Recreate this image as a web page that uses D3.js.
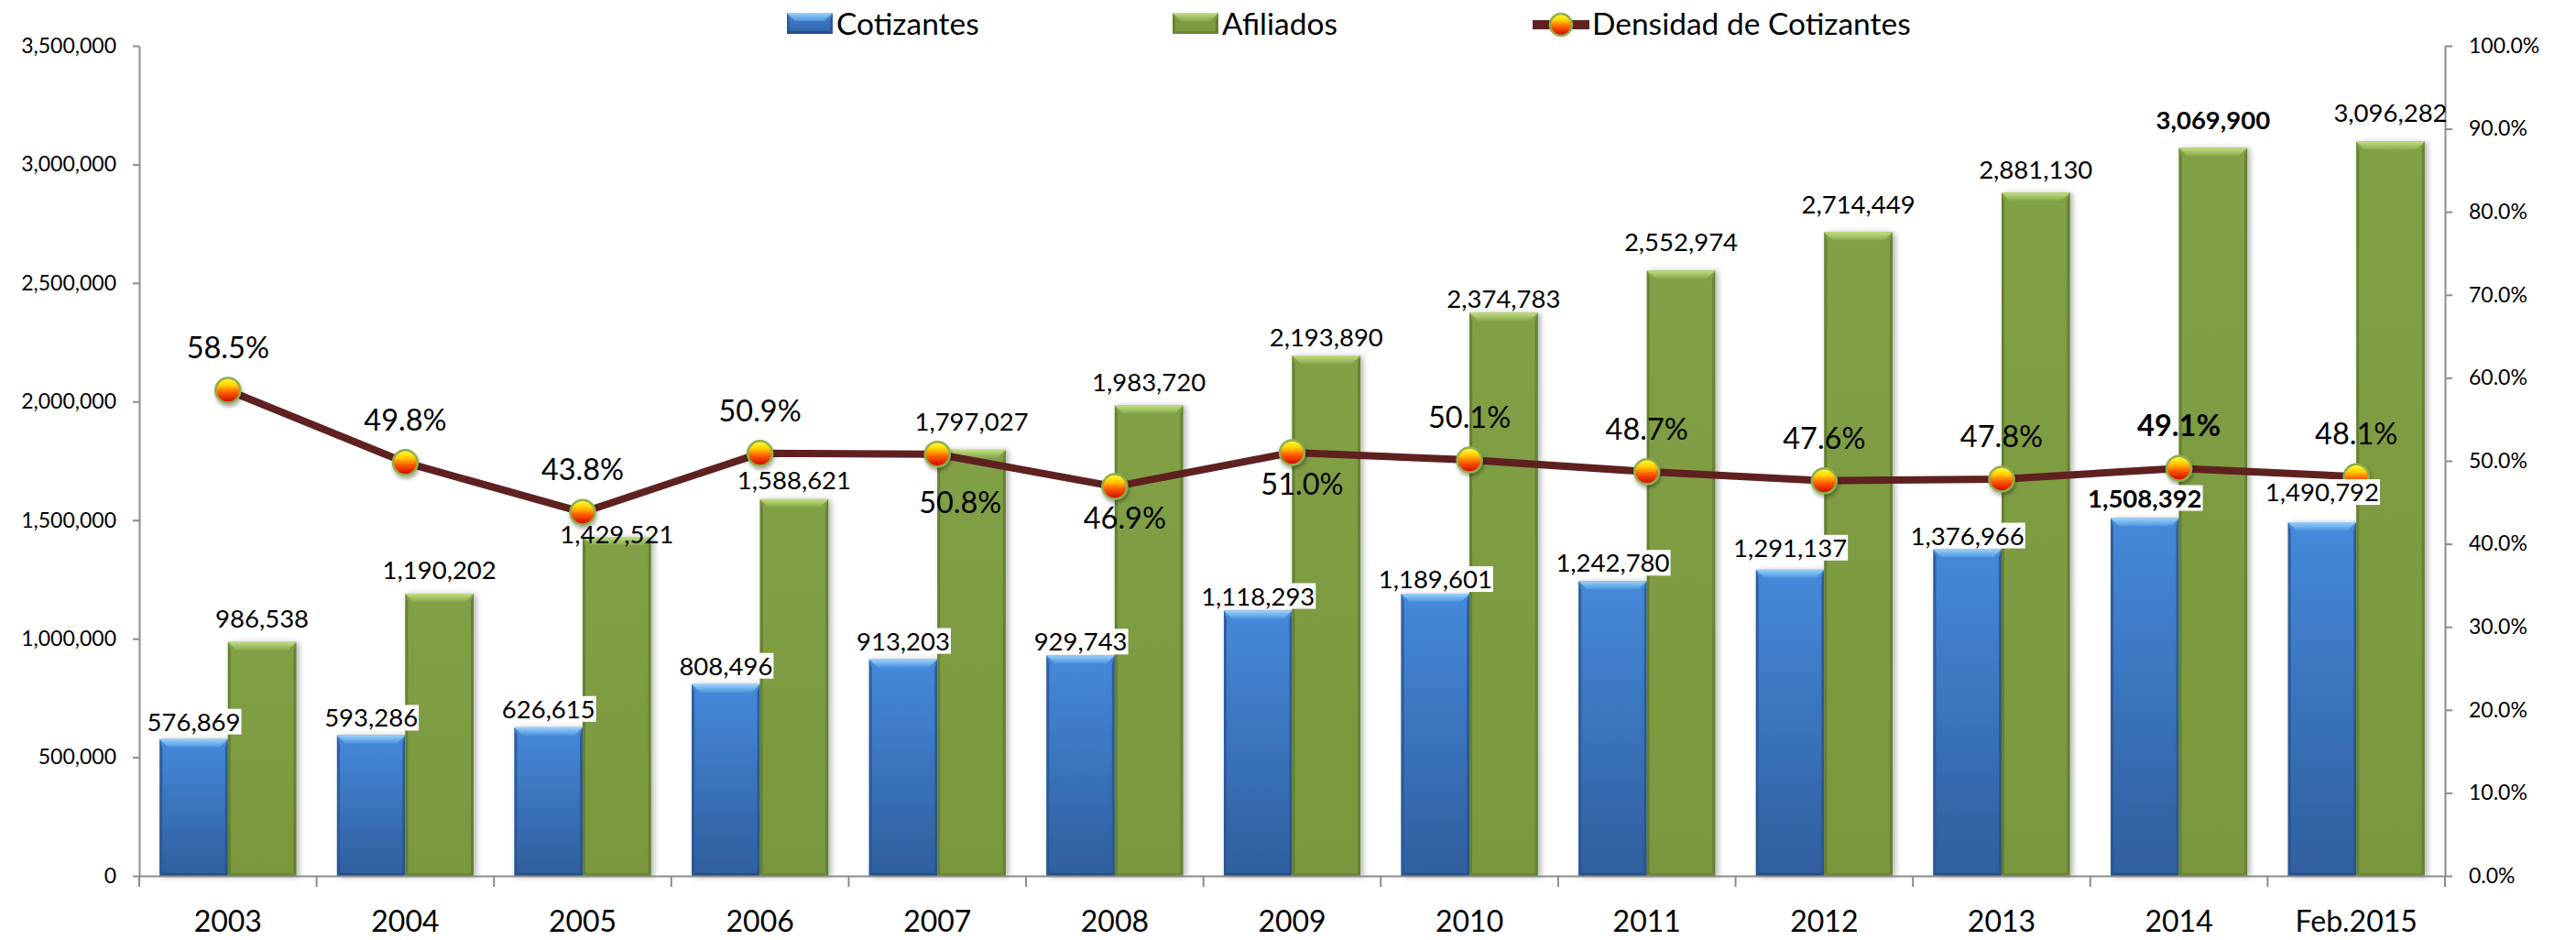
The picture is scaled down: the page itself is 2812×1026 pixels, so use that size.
<!DOCTYPE html>
<html>
<head>
<meta charset="utf-8">
<script src="https://cdn.jsdelivr.net/npm/d3@7"></script>
<style>
  html, body { margin: 0; padding: 0; background: #ffffff; }
  svg { display: block; font-family: Lato, "Open Sans", sans-serif; }
</style>
</head>
<body>
<svg id="chart" width="2812" height="1026"></svg>
<script>
// ---------------- DATA ----------------
const categories = ["2003", "2004", "2005", "2006", "2007", "2008", "2009", "2010", "2011", "2012", "2013", "2014", "Feb.2015"];
const cotizantes = [576869, 593286, 626615, 808496, 913203, 929743, 1118293, 1189601, 1242780, 1291137, 1376966, 1508392, 1490792];
const afiliados = [986538, 1190202, 1429521, 1588621, 1797027, 1983720, 2193890, 2374783, 2552974, 2714449, 2881130, 3069900, 3096282];
const densidad = [0.585, 0.498, 0.438, 0.509, 0.508, 0.469, 0.510, 0.501, 0.487, 0.476, 0.478, 0.491, 0.481];
const leftTicks = [0, 500000, 1000000, 1500000, 2000000, 2500000, 3000000, 3500000];
const rightTicks = [0, 0.1, 0.2, 0.3, 0.4, 0.5, 0.6, 0.7, 0.8, 0.9, 1.0];
const seriesNames = ["Cotizantes", "Afiliados", "Densidad de Cotizantes"];
const boldCategory = "2014";

// ---------------- LAYOUT (not data) ----------------
const pctPlacement = ["above", "above", "above", "above", "below", "below", "below", "above", "above", "above", "above", "above", "above"];
const pctNudge = { 4: { dx: 14, dy: 18 } };
const cotGap = [9, 9, 10, 10, 10, 5, 6, 6, 10, 14, 5, 12, 23];
const afiGap = [16, 16, -7, 11, 21, 15, 10, 5, 21, 20, 15, 20, 22];

const svg = d3.select("#chart");
const plot = { left: 152, right: 2669, top: 50, bottom: 956 };

const x = d3.scaleBand().domain(categories).range([plot.left, plot.right]).padding(0);
const yL = d3.scaleLinear().domain([0, 3500000]).range([plot.bottom, plot.top]);
const yR = d3.scaleLinear().domain([0, 1]).range([plot.bottom, plot.top]);
const bw = x.bandwidth() * 0.385;
const fmt = d3.format(",");
const pfmt = d3.format(".1%");

// ---------------- DEFS ----------------
const defs = svg.append("defs");
function linGrad(id, stops, horizontal) {
  const g = defs.append("linearGradient").attr("id", id)
    .attr("x1", 0).attr("y1", 0).attr("x2", horizontal ? 1 : 0).attr("y2", horizontal ? 0 : 1);
  stops.forEach(s => g.append("stop").attr("offset", s[0]).attr("stop-color", s[1]));
}
linGrad("blueBody", [[0, "#4689da"], [1, "#2f5e9d"]]);
linGrad("blueTop", [[0, "#9ad2fa"], [1, "#4d93de"]]);
linGrad("greenBody", [[0, "#82a046"], [1, "#7a973f"]]);
linGrad("greenTop", [[0, "#c2de80"], [1, "#8aa84c"]]);
linGrad("marker", [[0, "#ffff40"], [0.3, "#ffd000"], [0.6, "#ff5a00"], [1, "#c80000"]]);

const shadow = defs.append("filter").attr("id", "shadow")
  .attr("x", "-20%").attr("y", "-5%").attr("width", "150%").attr("height", "115%");
shadow.append("feDropShadow").attr("dx", 3).attr("dy", 1).attr("stdDeviation", 3)
  .attr("flood-color", "#000").attr("flood-opacity", 0.3);
const mshadow = defs.append("filter").attr("id", "mshadow")
  .attr("x", "-50%").attr("y", "-50%").attr("width", "200%").attr("height", "200%");
mshadow.append("feDropShadow").attr("dx", 1).attr("dy", 3).attr("stdDeviation", 2)
  .attr("flood-color", "#000").attr("flood-opacity", 0.35);

const palette = {
  blue: { body: "url(#blueBody)", top: "url(#blueTop)", side: "#2a5590", bottom: "#274f87" },
  green: { body: "url(#greenBody)", top: "url(#greenTop)", side: "#5f7c2e", bottom: "#6a8736" }
};

function bevelBar(g, x0, y0, w, h, p, withShadow) {
  const b = Math.min(9, h / 2), s = 3;
  const grp = g.append("g");
  if (withShadow) grp.attr("filter", "url(#shadow)");
  grp.append("rect").attr("x", x0).attr("y", y0).attr("width", w).attr("height", h).attr("fill", p.body);
  grp.append("polygon").attr("points", [[x0, y0], [x0 + s, y0 + b], [x0 + s, y0 + h - s], [x0, y0 + h]].join(" ")).attr("fill", p.side).attr("opacity", 0.8);
  grp.append("polygon").attr("points", [[x0 + w, y0], [x0 + w - s, y0 + b], [x0 + w - s, y0 + h - s], [x0 + w, y0 + h]].join(" ")).attr("fill", p.side).attr("opacity", 0.8);
  grp.append("polygon").attr("points", [[x0, y0 + h], [x0 + s, y0 + h - s], [x0 + w - s, y0 + h - s], [x0 + w, y0 + h]].join(" ")).attr("fill", p.bottom);
  grp.append("polygon").attr("points", [[x0, y0], [x0 + w, y0], [x0 + w - b, y0 + b], [x0 + b, y0 + b]].join(" ")).attr("fill", p.top);
}

// ---------------- BARS ----------------
const barsG = svg.append("g");
categories.forEach((c, i) => {
  const cx = x(c) + x.bandwidth() / 2;
  const yb = yL(cotizantes[i]);
  bevelBar(barsG, cx - bw, yb, bw, plot.bottom - yb, palette.blue, true);
  const yg = yL(afiliados[i]);
  bevelBar(barsG, cx, yg, bw, plot.bottom - yg, palette.green, true);
});

// ---------------- AXES ----------------
const axisColor = "#8c8c8c";
const leftAxis = svg.append("g").attr("transform", `translate(${plot.left},0)`)
  .call(d3.axisLeft(yL).tickValues(leftTicks).tickFormat(fmt).tickSize(7).tickSizeOuter(0).tickPadding(18));
const rightAxis = svg.append("g").attr("transform", `translate(${plot.right},0)`)
  .call(d3.axisRight(yR).tickValues(rightTicks).tickFormat(pfmt).tickSize(8).tickSizeOuter(0).tickPadding(18));
const bottomAxis = svg.append("g").attr("transform", `translate(0,${plot.bottom})`)
  .call(d3.axisBottom(x).tickSize(0).tickSizeOuter(0));
[leftAxis, rightAxis, bottomAxis].forEach(a => {
  a.selectAll("path.domain").attr("stroke", axisColor).attr("stroke-width", 2);
  a.selectAll(".tick line").attr("stroke", axisColor).attr("stroke-width", 2);
  a.selectAll("text").attr("fill", "#000").attr("font-family", "Lato, 'Open Sans', sans-serif");
});
leftAxis.selectAll("text").attr("font-size", 23);
rightAxis.selectAll("text").attr("font-size", 23);
bottomAxis.selectAll("text").attr("font-size", 32).attr("y", 61).attr("dy", null);

const boundaries = categories.map(c => x(c)).concat([plot.right]);
svg.append("g").selectAll("line").data(boundaries).join("line")
  .attr("x1", d => d).attr("x2", d => d)
  .attr("y1", plot.bottom).attr("y2", plot.bottom + 12)
  .attr("stroke", axisColor).attr("stroke-width", 2);

// ---------------- LINE ----------------
const lineG = svg.append("g");
const line = d3.line().x((d, i) => x(categories[i]) + x.bandwidth() / 2).y(d => yR(d));
lineG.append("path").datum(densidad).attr("d", line)
  .attr("fill", "none").attr("stroke", "#5f2120").attr("stroke-width", 8).attr("stroke-linejoin", "round");
lineG.selectAll("circle").data(densidad).join("circle")
  .attr("cx", (d, i) => x(categories[i]) + x.bandwidth() / 2)
  .attr("cy", d => yR(d))
  .attr("r", 13.5)
  .attr("fill", "url(#marker)")
  .attr("stroke", "#8fae4c").attr("stroke-width", 2.5)
  .attr("filter", "url(#mshadow)");

// ---------------- LABELS ----------------
const labG = svg.append("g").attr("font-family", "Lato, 'Open Sans', sans-serif").attr("fill", "#000");

categories.forEach((c, i) => {
  const cx = x(c) + x.bandwidth() / 2 - bw / 2;
  const t = labG.append("text")
    .attr("x", cx).attr("y", yL(cotizantes[i]) - cotGap[i])
    .attr("text-anchor", "middle").attr("font-size", 27.5)
    .attr("font-weight", c === boldCategory ? "bold" : "normal")
    .text(fmt(cotizantes[i]));
  const bb = t.node().getBBox();
  labG.insert("rect", () => t.node())
    .attr("x", bb.x - 1).attr("y", bb.y + 3).attr("width", bb.width + 2).attr("height", bb.height - 5)
    .attr("fill", "#fff");
});

categories.forEach((c, i) => {
  const cx = x(c) + x.bandwidth() / 2 + bw / 2;
  labG.append("text")
    .attr("x", cx).attr("y", yL(afiliados[i]) - afiGap[i])
    .attr("text-anchor", "middle").attr("font-size", 27.5)
    .attr("font-weight", c === boldCategory ? "bold" : "normal")
    .text(fmt(afiliados[i]));
});

categories.forEach((c, i) => {
  const cx = x(c) + x.bandwidth() / 2;
  const cy = yR(densidad[i]);
  const n = pctNudge[i] || { dx: 0, dy: 0 };
  const below = pctPlacement[i] === "below";
  labG.append("text")
    .attr("x", cx + (below ? 11 : 0) + n.dx)
    .attr("y", cy + (below ? 46 : -35) + n.dy)
    .attr("text-anchor", "middle").attr("font-size", 32.5)
    .attr("font-weight", c === boldCategory ? "bold" : "normal")
    .text(pfmt(densidad[i]));
});

// ---------------- LEGEND ----------------
const leg = svg.append("g").attr("font-family", "Lato, 'Open Sans', sans-serif");
const legItems = [
  { name: seriesNames[0], x: 859, type: "bar", p: palette.blue },
  { name: seriesNames[1], x: 1280, type: "bar", p: palette.green },
  { name: seriesNames[2], x: 1673, type: "line" }
];
legItems.forEach(it => {
  if (it.type === "bar") {
    bevelBar(leg, it.x, 14, 50, 23, it.p, false);
    leg.append("text").attr("x", it.x + 54).attr("y", 38).attr("font-size", 33.5).text(it.name);
  } else {
    leg.append("line").attr("x1", it.x).attr("x2", it.x + 62).attr("y1", 27).attr("y2", 27)
      .attr("stroke", "#5f2120").attr("stroke-width", 10);
    leg.append("circle").attr("cx", it.x + 31).attr("cy", 27).attr("r", 12)
      .attr("fill", "url(#marker)").attr("stroke", "#8fae4c").attr("stroke-width", 2.5);
    leg.append("text").attr("x", it.x + 65).attr("y", 38).attr("font-size", 33.5).text(it.name);
  }
});
</script>
</body>
</html>
